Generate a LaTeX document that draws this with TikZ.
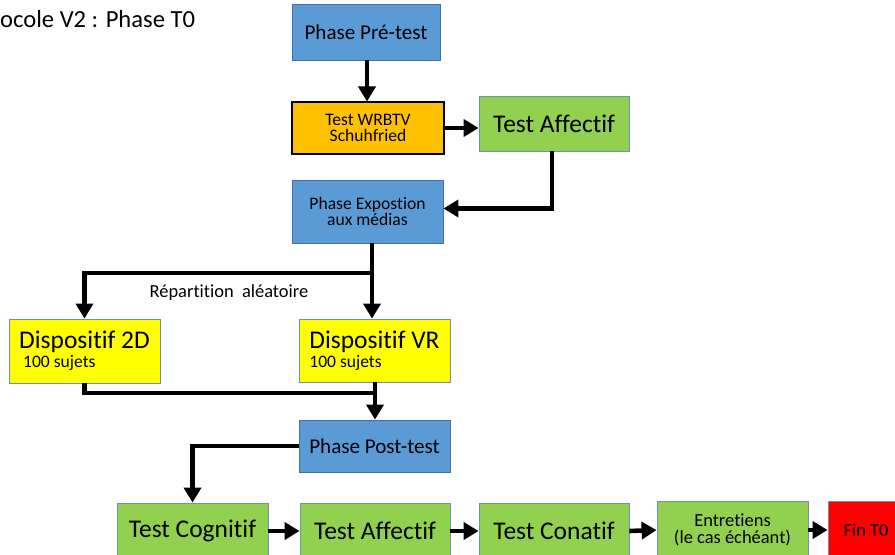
\documentclass[tikz,border=0pt]{standalone}
\usepackage{fontspec}
\setmainfont{Carlito}[Ligatures=NoCommon]
\usetikzlibrary{arrows.meta}
\definecolor{phaseblue}{HTML}{5B9BD5}
\definecolor{phaserim}{HTML}{41719C}
\definecolor{testgreen}{HTML}{92D050}
\definecolor{wrbtvorange}{HTML}{FFC000}
\definecolor{devyellow}{HTML}{FFFF00}
\definecolor{endred}{HTML}{FF0000}
\definecolor{boxrim}{HTML}{7090B8}
\begin{document}
\begin{tikzpicture}[x=0.02cm, y=-0.02cm,
          every node/.style = {shape=rectangle, inner sep=0pt, align=center, minimum width=3cm},
          phasebox/.style = {fill=phaseblue, draw=phaserim, line width=0.5pt, font=\fontsize{12}{13}\selectfont},
          smallphase/.style = {phasebox, font=\fontsize{10}{9.5}\selectfont},
          testbox/.style = {fill=testgreen, draw=boxrim, line width=0.5pt, font=\fontsize{14.5}{15}\selectfont},
          devbox/.style = {fill=devyellow, draw=boxrim, line width=0.5pt, align=left},
          arrowline/.style = {line width=2.6pt, -{Triangle[length=0.3cm, width=0.34cm]}}]
          \useasboundingbox (0,0) rectangle (895,554);
          % title, cut at the left border
          \node[anchor=base west, minimum width=0pt, font=\fontsize{14}{15}\selectfont] (title) at (-42,28) {Protocole V2 : Phase T0};
          % phases and tests
          \node[phasebox, minimum width=2.96cm, minimum height=1.12cm] (pre) at (366,32) {Phase Pré-test};
          \node[fill=wrbtvorange, draw=black, line width=0.6pt, minimum width=3.04cm, minimum height=1.04cm, font=\fontsize{10}{9.5}\selectfont] (wrbtv) at (368,128) {Test WRBTV\\Schuhfried};
          \node[testbox, minimum height=1.1cm] (aff1) at (554,123.5) {Test Affectif};
          \node[smallphase, minimum width=3.02cm, minimum height=1.26cm] (expo) at (367.5,211.5) {Phase Expostion\\aux médias};
          \node[devbox, minimum width=3.02cm, minimum height=1.28cm] (d2) at (84.5,351) {{\fontsize{14.5}{15}\selectfont Dispositif 2D}\\[-1pt]{\fontsize{10}{10}\selectfont\ 100 sujets}};
          \node[devbox, minimum width=3.02cm, minimum height=1.26cm] (vr) at (374.5,350.5) {{\fontsize{14.5}{15}\selectfont Dispositif VR}\\[-1pt]{\fontsize{10}{10}\selectfont 100 sujets}};
          \node[phasebox, minimum width=3.02cm, minimum height=1.04cm] (post) at (374.5,446) {Phase Post-test};
          \node[testbox, minimum width=3.02cm, minimum height=1.12cm] (cog) at (192.5,531) {Test Cognitif};
          \node[testbox, minimum height=1.12cm] (aff2) at (375,531) {Test Affectif};
          \node[testbox, minimum height=1.12cm] (conat) at (554,531) {Test Conatif};
          \node[fill=testgreen, draw=boxrim, line width=0.5pt, minimum width=3.02cm, minimum height=1.16cm, font=\fontsize{10.5}{10}\selectfont] (entre) at (732.5,530) {Entretiens\\(le cas échéant)};
          \node[fill=endred, draw=boxrim, line width=0.5pt, minimum width=1.52cm, minimum height=1.16cm, font=\fontsize{10.5}{11}\selectfont] (fin) at (866,530) {Fin T0};
          % split and merge points
          \coordinate (split) at (372,273);
          \coordinate (merge) at (375,393);
          \node[minimum width=0pt, font=\fontsize{10.5}{11}\selectfont] (rand) at (229,293) {Répartition\ \ aléatoire};
          % connectors
          \draw[arrowline] (pre.south -| wrbtv.north) ++(-1,0) -- ([xshift=-0.02cm]wrbtv.north);
          \draw[arrowline] (wrbtv.east) -- (aff1.west |- wrbtv.east);
          \draw[arrowline] ([xshift=-0.04cm]aff1.south) |- ([yshift=0.06cm]expo.east);
          \draw[line width=2.6pt] (expo.south -| split) -- (split);
          \draw[arrowline] (split) -- (vr.north -| split);
          \draw[arrowline] ([xshift=-0.04cm]split) -| (d2.north);
          \draw[line width=2.6pt] (d2.south) |- ([xshift=0.04cm]merge);
          \draw[arrowline] (vr.south -| merge) -- (post.north -| merge);
          \draw[arrowline] (post.west) -| (cog.north);
          \draw[arrowline] (cog.east) -- (aff2.west);
          \draw[arrowline] (aff2.east) -- (conat.west);
          \draw[arrowline] (conat.east) -- (entre.west);
          \draw[arrowline] (entre.east) -- (fin.west);
\end{tikzpicture}
\end{document}
